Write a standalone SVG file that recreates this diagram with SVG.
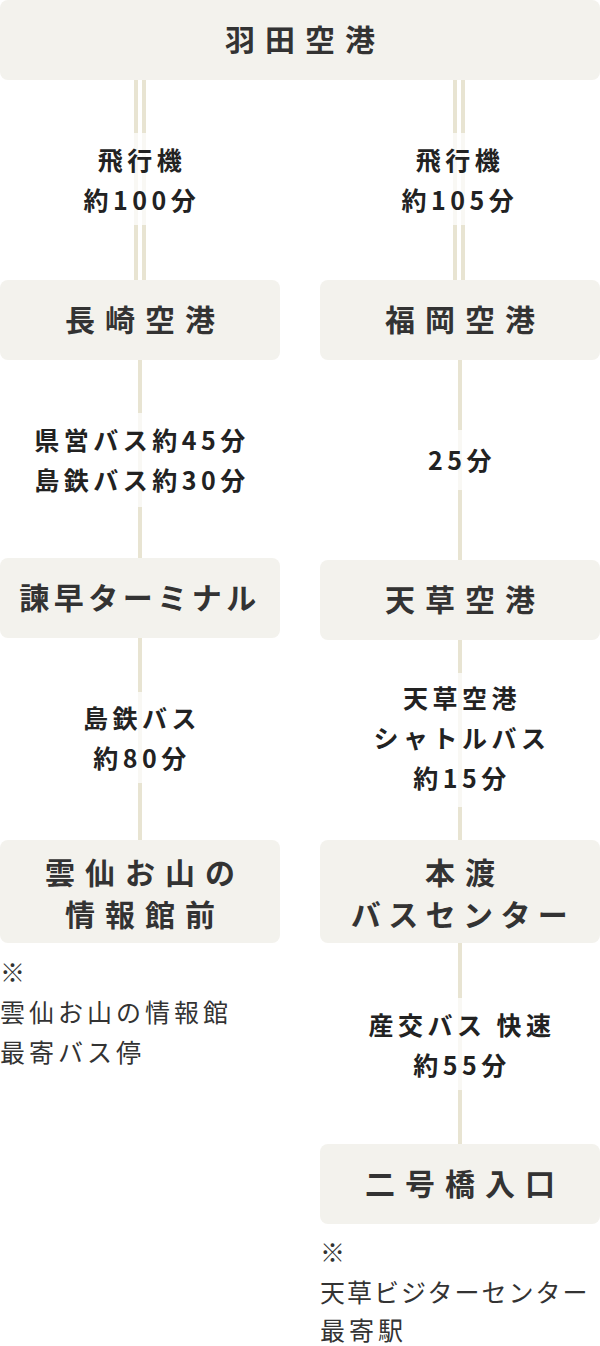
<svg xmlns="http://www.w3.org/2000/svg" width="600" height="1346" viewBox="0 0 600 1346">
<style>
.box{fill:#f3f2ed}
.bt{font-family:"Noto Sans CJK JP","Noto Sans",sans-serif;font-weight:700;font-size:30px;fill:#333;text-anchor:middle;dominant-baseline:central;letter-spacing:10px}
.lt{font-family:"Noto Sans CJK JP","Noto Sans",sans-serif;font-weight:700;font-size:25px;fill:#222;text-anchor:middle;dominant-baseline:central;letter-spacing:4.5px}
.nt{font-family:"Noto Sans CJK JP","Noto Sans",sans-serif;font-weight:400;font-size:25px;fill:#333;dominant-baseline:central;letter-spacing:4px}
.ln{stroke:#e8e4d2;stroke-width:4;fill:none}
.lbg{fill:#fff;fill-opacity:0.75}
</style>
<g id="connectors">
<line class="ln" x1="136" y1="80" x2="136" y2="280"/>
<line class="ln" x1="144" y1="80" x2="144" y2="280"/>
<line class="ln" x1="455" y1="80" x2="455" y2="280"/>
<line class="ln" x1="463" y1="80" x2="463" y2="280"/>
<line class="ln" x1="140" y1="360" x2="140" y2="558"/>
<line class="ln" x1="460" y1="360" x2="460" y2="560"/>
<line class="ln" x1="140" y1="638" x2="140" y2="840"/>
<line class="ln" x1="460" y1="640" x2="460" y2="840"/>
<line class="ln" x1="460" y1="943" x2="460" y2="1144"/>
<rect class="lbg" x="85" y="133" width="110" height="92"/>
<rect class="lbg" x="400" y="133" width="116" height="92"/>
<rect class="lbg" x="35" y="413" width="210" height="94"/>
<rect class="lbg" x="425" y="430" width="70" height="60"/>
<rect class="lbg" x="80" y="692" width="120" height="91"/>
<rect class="lbg" x="380" y="673" width="160" height="134"/>
<rect class="lbg" x="365" y="998" width="190" height="92"/>
<text class="lt" x="142" y="159">飛行機</text>
<text class="lt" x="142" y="199">約100分</text>
<text class="lt" x="460" y="159">飛行機</text>
<text class="lt" x="460" y="199">約105分</text>
<text class="lt" x="142" y="439">県営バス約45分</text>
<text class="lt" x="142" y="479">島鉄バス約30分</text>
<text class="lt" x="462" y="459">25分</text>
<text class="lt" x="142" y="717">島鉄バス</text>
<text class="lt" x="142" y="757">約80分</text>
<text class="lt" x="462" y="697">天草空港</text>
<text class="lt" x="462" y="737">シャトルバス</text>
<text class="lt" x="462" y="777">約15分</text>
<text class="lt" x="462" y="1024">産交バス 快速</text>
<text class="lt" x="462" y="1064">約55分</text>
</g>
<g id="haneda">
<rect class="box" x="0" y="0" width="600" height="80" rx="8"/>
<text class="bt" x="305" y="38">羽田空港</text>
</g>
<g id="nagasaki">
<rect class="box" x="0" y="280" width="280" height="80" rx="8"/>
<text class="bt" x="145" y="318">長崎空港</text>
</g>
<g id="fukuoka">
<rect class="box" x="320" y="280" width="280" height="80" rx="8"/>
<text class="bt" x="465" y="318">福岡空港</text>
</g>
<g id="isahaya">
<rect class="box" x="0" y="558" width="280" height="80" rx="8"/>
<text class="bt" x="140" y="596" style="letter-spacing:4.5px">諫早ターミナル</text>
</g>
<g id="amakusa-airport">
<rect class="box" x="320" y="560" width="280" height="80" rx="8"/>
<text class="bt" x="465" y="598">天草空港</text>
</g>
<g id="unzen">
<rect class="box" x="0" y="840" width="280" height="103" rx="8"/>
<text class="bt" x="145" y="871">雲仙お山の</text>
<text class="bt" x="145" y="913">情報館前</text>
</g>
<g id="hondo">
<rect class="box" x="320" y="840" width="280" height="103" rx="8"/>
<text class="bt" x="465" y="871">本渡</text>
<text class="bt" x="463" y="913" style="letter-spacing:7.4px">バスセンター</text>
</g>
<g id="nigobashi">
<rect class="box" x="320" y="1144" width="280" height="80" rx="8"/>
<text class="bt" x="465" y="1182">二号橋入口</text>
</g>
<g id="note-left">
<text class="nt" x="0" y="971">※</text>
<text class="nt" x="0" y="1011">雲仙お山の情報館</text>
<text class="nt" x="0" y="1051">最寄バス停</text>
</g>
<g id="note-right">
<text class="nt" x="320" y="1251">※</text>
<text class="nt" x="320" y="1291" style="letter-spacing:2px">天草ビジターセンター</text>
<text class="nt" x="320" y="1329">最寄駅</text>
</g>
</svg>
